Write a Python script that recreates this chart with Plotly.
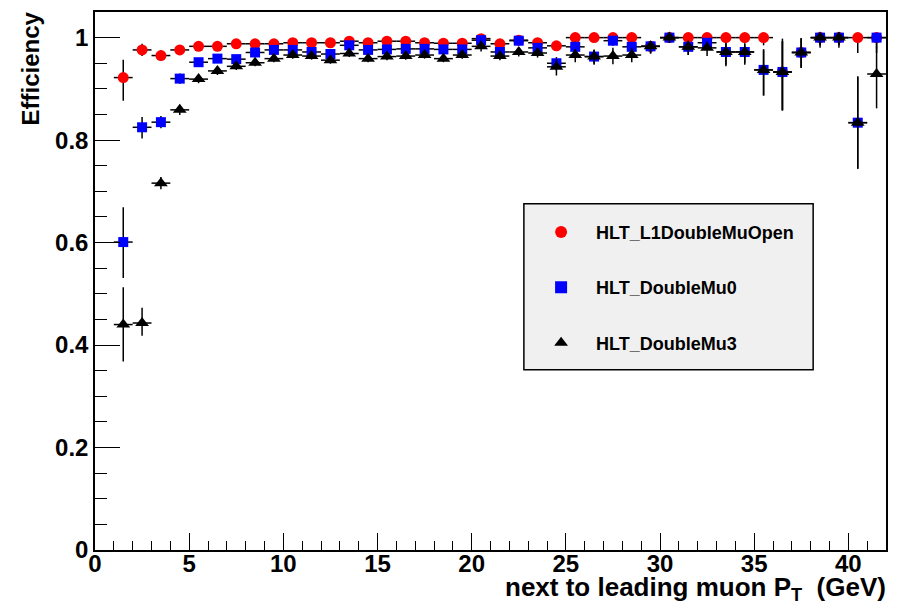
import plotly.graph_objects as go

# Bin centres of the next-to-leading muon pT histogram (1 GeV bins)
pt = [1.5, 2.5, 3.5, 4.5, 5.5, 6.5, 7.5, 8.5, 9.5, 10.5,
      11.5, 12.5, 13.5, 14.5, 15.5, 16.5, 17.5, 18.5, 19.5, 20.5,
      21.5, 22.5, 23.5, 24.5, 25.5, 26.5, 27.5, 28.5, 29.5, 30.5,
      31.5, 32.5, 33.5, 34.5, 35.5, 36.5, 37.5, 38.5, 39.5, 40.5, 41.5]
bin_half_width = 0.5

# HLT_L1DoubleMuOpen efficiency and asymmetric errors
eff_open = [0.922, 0.976, 0.965, 0.976, 0.983, 0.983, 0.988, 0.988, 0.988, 0.990,
            0.990, 0.990, 0.993, 0.990, 0.993, 0.993, 0.990, 0.989, 0.989, 0.998,
            0.988, 0.995, 0.990, 0.984, 1.000, 1.000, 1.000, 1.000, 0.983, 1.000,
            1.000, 1.000, 1.000, 1.000, 1.000, 0.933, 0.971, 1.000, 1.000, 1.000, 1.000]
err_open_up = [0.035, 0.012, 0.010, 0.007, 0.006, 0.006, 0.005, 0.005, 0.005, 0.005,
               0.005, 0.005, 0.004, 0.005, 0.004, 0.004, 0.005, 0.005, 0.005, 0.002,
               0.006, 0.004, 0.006, 0.008, 0.000, 0.000, 0.000, 0.000, 0.010, 0.000,
               0.000, 0.000, 0.000, 0.000, 0.000, 0.060, 0.028, 0.000, 0.000, 0.000, 0.000]
err_open_dn = [0.045, 0.012, 0.010, 0.007, 0.006, 0.006, 0.005, 0.005, 0.005, 0.005,
               0.005, 0.005, 0.005, 0.005, 0.005, 0.005, 0.005, 0.005, 0.005, 0.006,
               0.007, 0.006, 0.007, 0.010, 0.008, 0.008, 0.008, 0.008, 0.012, 0.008,
               0.010, 0.010, 0.012, 0.012, 0.015, 0.075, 0.030, 0.020, 0.020, 0.030, 0.030]

# HLT_DoubleMu0
eff_mu0 = [0.601, 0.825, 0.835, 0.920, 0.952, 0.959, 0.958, 0.971, 0.976, 0.976,
           0.972, 0.968, 0.985, 0.976, 0.977, 0.978, 0.978, 0.977, 0.977, 0.995,
           0.972, 0.994, 0.980, 0.950, 0.982, 0.963, 0.994, 0.982, 0.983, 1.000,
           0.982, 0.990, 0.972, 0.972, 0.937, 0.933, 0.971, 1.000, 1.000, 0.834, 1.000]
err_mu0_up = [0.068, 0.020, 0.012, 0.010, 0.007, 0.007, 0.007, 0.006, 0.005, 0.005,
              0.006, 0.006, 0.005, 0.006, 0.006, 0.006, 0.006, 0.006, 0.006, 0.004,
              0.007, 0.004, 0.007, 0.012, 0.010, 0.013, 0.005, 0.010, 0.010, 0.000,
              0.012, 0.008, 0.017, 0.015, 0.040, 0.060, 0.028, 0.000, 0.000, 0.090, 0.000]
err_mu0_dn = [0.070, 0.022, 0.012, 0.010, 0.007, 0.007, 0.007, 0.006, 0.006, 0.006,
              0.006, 0.006, 0.006, 0.006, 0.006, 0.006, 0.006, 0.006, 0.006, 0.008,
              0.007, 0.008, 0.008, 0.014, 0.012, 0.016, 0.010, 0.014, 0.014, 0.010,
              0.016, 0.014, 0.025, 0.022, 0.050, 0.075, 0.030, 0.015, 0.015, 0.090, 0.020]

# HLT_DoubleMu3
eff_mu3 = [0.440, 0.443, 0.716, 0.859, 0.919, 0.935, 0.944, 0.951, 0.959, 0.966,
           0.964, 0.956, 0.969, 0.959, 0.963, 0.964, 0.966, 0.959, 0.966, 0.983,
           0.964, 0.972, 0.970, 0.943, 0.966, 0.963, 0.964, 0.966, 0.983, 1.000,
           0.982, 0.980, 0.972, 0.972, 0.937, 0.933, 0.971, 1.000, 1.000, 0.834, 0.929]
err_mu3_up = [0.073, 0.030, 0.012, 0.010, 0.008, 0.008, 0.007, 0.007, 0.006, 0.006,
              0.006, 0.007, 0.006, 0.007, 0.007, 0.007, 0.007, 0.007, 0.007, 0.008,
              0.008, 0.008, 0.008, 0.015, 0.012, 0.014, 0.016, 0.014, 0.010, 0.000,
              0.012, 0.012, 0.017, 0.016, 0.040, 0.065, 0.028, 0.000, 0.000, 0.090, 0.053]
err_mu3_dn = [0.072, 0.025, 0.012, 0.010, 0.008, 0.008, 0.007, 0.007, 0.007, 0.007,
              0.007, 0.007, 0.007, 0.007, 0.007, 0.007, 0.007, 0.007, 0.007, 0.010,
              0.008, 0.009, 0.009, 0.017, 0.014, 0.014, 0.016, 0.014, 0.014, 0.010,
              0.016, 0.016, 0.028, 0.025, 0.050, 0.075, 0.030, 0.015, 0.015, 0.090, 0.067]

series = [
    ("HLT_L1DoubleMuOpen", eff_open, err_open_up, err_open_dn, "#ff0000", "circle", 11),
    ("HLT_DoubleMu0", eff_mu0, err_mu0_up, err_mu0_dn, "#0000ff", "square", 10),
    ("HLT_DoubleMu3", eff_mu3, err_mu3_up, err_mu3_dn, "#000000", "triangle-up", 12),
]

FONT = "Liberation Sans, Arial, Helvetica, sans-serif"

fig = go.Figure()
for i, (name, eff, eup, edn, color, symbol, size) in enumerate(series):
    fig.add_trace(go.Scatter(
        x=pt, y=eff, mode="markers", name=name, legendgroup=f"g{i}",
        marker=dict(color=color, symbol=symbol, size=size, line=dict(width=0)),
        error_y=dict(type="data", symmetric=False, array=eup, arrayminus=edn,
                     color="black", thickness=1.5, width=0),
        error_x=dict(type="constant", value=bin_half_width,
                     color="black", thickness=1.5, width=0),
    ))

axis_common = dict(
    showline=True, linecolor="black", linewidth=1.5, mirror=True,
    showgrid=False, zeroline=False, ticks="inside", tickcolor="black",
    tickwidth=1.2,
    tickfont=dict(family=FONT, size=24, color="black", weight="bold"),
)

fig.update_xaxes(
    range=[0, 42], tick0=0, dtick=5, ticklen=17, ticklabelstandoff=-9,
    minor=dict(ticks="inside", dtick=1, ticklen=9, tickcolor="black", tickwidth=1.2),
    **axis_common,
)
fig.update_yaxes(
    range=[0, 1.05], ticklen=25,
    tickvals=[0, 0.2, 0.4, 0.6, 0.8, 1.0], ticktext=["0", "0.2", "0.4", "0.6", "0.8", "1"],
    minor=dict(ticks="inside", dtick=0.05, ticklen=12, tickcolor="black", tickwidth=1.2),
    **axis_common,
)

# Legend frame
fig.add_shape(type="rect", xref="paper", yref="paper",
              x0=0.5422, x1=0.9079, y0=0.3352, y1=0.6435,
              fillcolor="#f0f0f0", line=dict(color="black", width=1.5), layer="below")

# Axis titles
fig.add_annotation(text="Efficiency", xref="paper", yref="paper",
                   x=-0.082, y=1.005, xanchor="center", yanchor="top", textangle=-90,
                   showarrow=False,
                   font=dict(family=FONT, size=24, color="black", weight="bold"))
fig.add_annotation(text="next to leading muon P<sub>T</sub>\u00a0\u00a0(GeV)",
                   xref="paper", yref="paper", x=1.002, y=-0.072,
                   xanchor="right", yanchor="middle", showarrow=False,
                   font=dict(family=FONT, size=26, color="black", weight="bold"))

fig.update_layout(
    width=898, height=607,
    margin=dict(l=95, r=10, t=12, b=57),
    paper_bgcolor="white", plot_bgcolor="white",
    showlegend=True,
    legend=dict(x=0.545, y=0.625, xanchor="left", yanchor="top",
                bgcolor="rgba(0,0,0,0)", borderwidth=0,
                font=dict(family=FONT, size=18, color="black", weight="bold"),
                itemwidth=60, tracegroupgap=29, itemsizing="constant"),
)

fig.write_html("out.html")
